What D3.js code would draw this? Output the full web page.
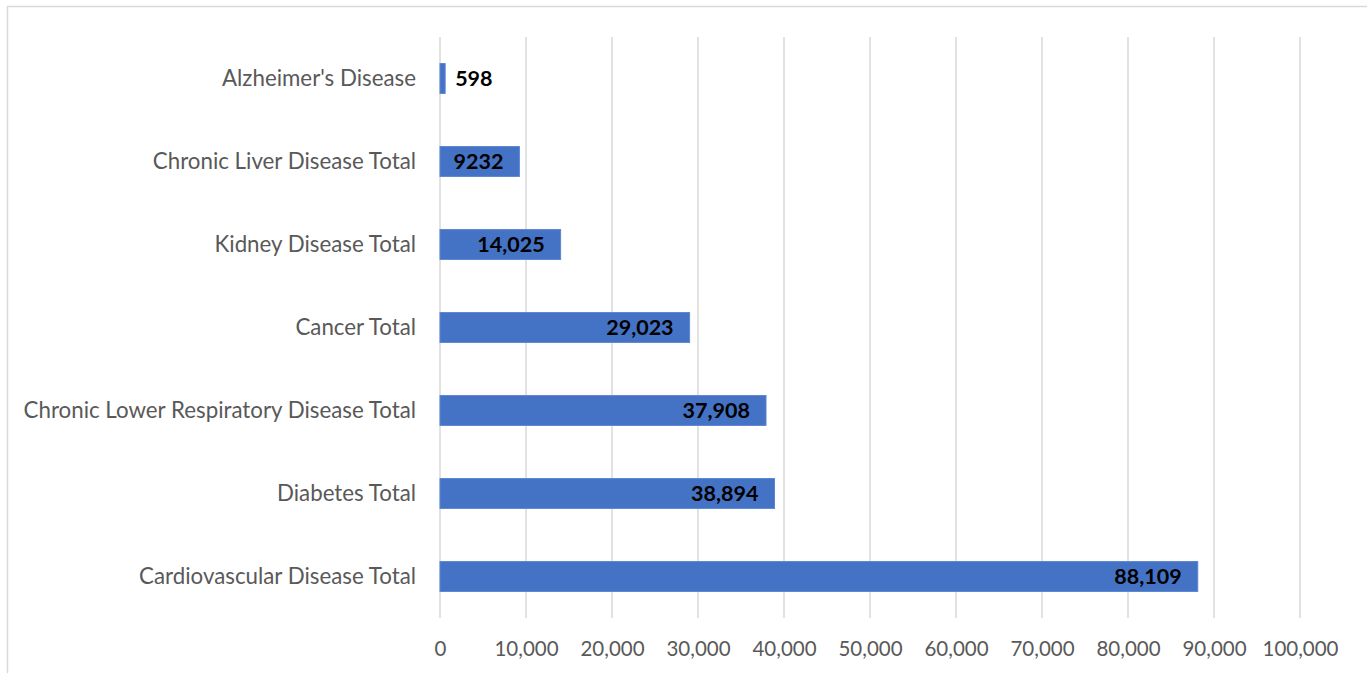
<!DOCTYPE html>
<html>
<head>
<meta charset="utf-8">
<script src="https://cdn.jsdelivr.net/npm/d3@7"></script>
<style>
  html, body { margin: 0; padding: 0; background: #fff; }
  svg { display: block; }
</style>
</head>
<body>
<svg id="chart"></svg>
<script>
const categories = [
  "Alzheimer's Disease",
  'Chronic Liver Disease Total',
  'Kidney Disease Total',
  'Cancer Total',
  'Chronic Lower Respiratory Disease Total',
  'Diabetes Total',
  'Cardiovascular Disease Total'
];
const values = [598, 9232, 14025, 29023, 37908, 38894, 88109];
const valueLabels = ['598', '9232', '14,025', '29,023', '37,908', '38,894', '88,109'];
const xTicks = [0, 10000, 20000, 30000, 40000, 50000, 60000, 70000, 80000, 90000, 100000];

const width = 1367, height = 673;
const plot = { left: 440, right: 1300, top: 37, bottom: 618 };
const font = 'Lato, "Open Sans", sans-serif';

document.addEventListener('DOMContentLoaded', () => {
  const data = categories.map((c, i) => ({ name: c, value: values[i], label: valueLabels[i] }));

  const svg = d3.select('#chart')
    .attr('width', width)
    .attr('height', height);

  // chart frame (only top and left show in the crop)
  svg.append('path')
    .attr('d', `M7.5,${height} V6.5 H${width}`)
    .attr('fill', 'none')
    .attr('stroke', '#d9d9d9')
    .attr('stroke-width', 1.5);

  const x = d3.scaleLinear()
    .domain([0, 100000])
    .range([plot.left, plot.right]);
  const y = d3.scaleBand()
    .domain(categories)
    .range([plot.top, plot.bottom])
    .paddingInner(0.64)
    .paddingOuter(0.32);

  // gridlines
  svg.append('g')
    .selectAll('line')
    .data(xTicks)
    .join('line')
    .attr('x1', d => x(d))
    .attr('x2', d => x(d))
    .attr('y1', plot.top)
    .attr('y2', plot.bottom)
    .attr('stroke', '#d9d9d9')
    .attr('stroke-width', 1.5);

  // x axis labels
  const xAxis = d3.axisBottom(x)
    .tickValues(xTicks)
    .tickFormat(d3.format(','))
    .tickSize(0)
    .tickPadding(0);
  const gx = svg.append('g')
    .attr('transform', `translate(0, ${plot.bottom + 38})`)
    .call(xAxis);
  gx.select('.domain').remove();
  gx.selectAll('text')
    .attr('dy', 0)
    .attr('fill', '#595959')
    .style('font-family', font)
    .style('font-size', '20.5px');

  // y axis labels
  const yAxis = d3.axisLeft(y).tickSize(0).tickPadding(24);
  const gy = svg.append('g')
    .attr('transform', `translate(${plot.left}, 0)`)
    .call(yAxis);
  gy.select('.domain').remove();
  gy.selectAll('text')
    .attr('fill', '#595959')
    .style('font-family', font)
    .style('font-size', '22.3px');

  // bars
  svg.append('g')
    .selectAll('rect')
    .data(data)
    .join('rect')
    .attr('x', x(0))
    .attr('y', d => y(d.name))
    .attr('width', d => x(d.value) - x(0))
    .attr('height', y.bandwidth())
    .attr('fill', '#4472c4')
    .attr('stroke', '#5b85d1')
    .attr('stroke-width', 1);

  // value labels
  svg.append('g')
    .selectAll('text')
    .data(data)
    .join('text')
    .attr('x', d => (x(d.value) - x(0) < 40) ? x(d.value) + 10 : x(d.value) - 16)
    .attr('y', d => y(d.name) + y.bandwidth() / 2)
    .attr('dy', '0.35em')
    .attr('text-anchor', d => (x(d.value) - x(0) < 40) ? 'start' : 'end')
    .attr('fill', '#000')
    .style('font-family', font)
    .style('font-weight', 'bold')
    .style('font-size', '21.5px')
    .text(d => d.label);
});
</script>
</body>
</html>
